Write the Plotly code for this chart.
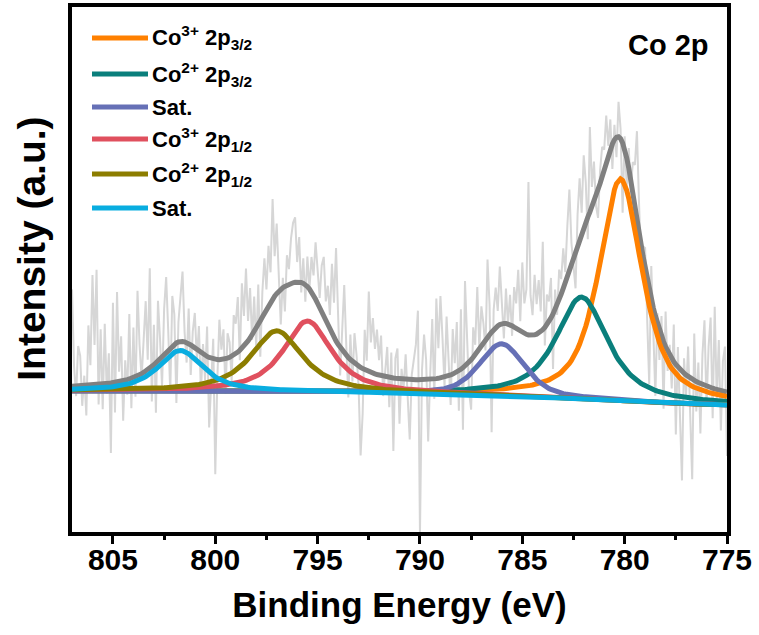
import numpy as np
import plotly.graph_objects as go

# ---------------- data ----------------
energy_start = 807.0
energy_stop = 775.0
energy_count = 321  # 0.1 eV steps

# raw spectrum deviations from the fitted envelope, 807.0 -> 775.0 eV (0.1 eV steps)
residuals = [
    97, 20, -10, 40, 30, -20, 10, -30, 60, 20,
    110, 40, 115, -20, 55, -25, 60, -10, 30, -70,
    80, -30, 90, 10, 45, -40, 20, -15, 65, -30,
    50, -20, 85, 30, -5, 40, 70, 10, 100, -35,
    40, -50, 60, 20, -30, 45, 75, 20, -45, 50,
    30, -60, 20, 45, 70, 10, -20, 35, -30, 15,
    35, -10, 25, -40, 10, -25, 30, -70, -15, 20,
    -115, -20, 40, 10, 30, -35, 25, 15, -25, 40,
    30, 55, -10, 65, 30, 75, 20, 50, -5, 35,
    -20, 40, -36, 25, 55, 20, 60, 30, 100, 40,
    70, 20, -35, 10, -25, 30, 15, 45, 60, 65,
    20, 45, -10, 25, -17, 30, 0, 35, 20, 57,
    30, 10, 47, 60, 20, 40, 15, 70, 35, 93,
    30, -28, 20, 68, 10, -40, 25, -20, 30, 10,
    -20, -88, -45, 40, 10, 80, 30, 55, 25, 45,
    15, 40, -20, 10, 30, -30, 25, -73, 20, 30,
    -45, 10, -10, 25, -25, -60, 5, 20, 35, 69,
    -155, 10, 45, 20, -62, 5, 60, -20, 80, 30,
    82, 40, -10, 60, 20, -30, 45, 10, 50, -40,
    60, -62, 85, 20, -30, -50, 30, 10, 65, 0,
    40, 20, -10, 78, 30, -100, 20, 40, 15, 58,
    20, -15, 35, 0, 30, -10, 40, 25, 60, 10,
    70, 30, 45, 153, 40, 20, 60, 30, 53, 20,
    88, -18, 30, 20, 40, -55, 20, -10, 30, 15,
    40, 10, 50, 80, 20, -10, -38, 30, 60, 20,
    72, 40, -22, 85, 20, 40, -10, -28, 13, 30,
    20, 47, 10, 30, -25, 15, -20, 35, 10, -70,
    13, -30, 20, -10, 30, 40, 87, 30, -20, 10,
    20, -40, -95, 33, -20, -80, 10, -30, 20, -67,
    35, -20, 10, -30, 37, -70, 20, -40, -109, 15,
    -20, 30, -40, -100, 47, -30, 20, -50, 30, 65,
    -20, 40, 70, -30, 82, -10, 50, -40, 30, 45,
    -64,
]

comp_names = [
    "Co<sup>3+</sup> 2p<sub>3/2</sub>",
    "Co<sup>2+</sup> 2p<sub>3/2</sub>",
    "Sat.",
    "Co<sup>3+</sup> 2p<sub>1/2</sub>",
    "Co<sup>2+</sup> 2p<sub>1/2</sub>",
    "Sat.",
]
comp_centers = [780.2, 782.1, 786.0, 795.5, 797.0, 801.7]   # eV
comp_heights = [222, 102, 52, 71, 61, 41]                  # a.u. above background
comp_fwhm = [2.5, 3.0, 2.6, 2.8, 3.0, 2.6]                 # eV
comp_lorentz = [0.7, 0.8, 0.5, 0.85, 0.85, 0.8]            # Lorentzian fraction
comp_colors = ["#FF8000", "#0A7F7C", "#6670B6", "#E0505E", "#8C7D00", "#09ADE0"]

bg_energy = [807, 795, 787, 781, 778, 775]
bg_level = [141, 140, 137, 132, 128.5, 127]

x_ticks = [805, 800, 795, 790, 785, 780, 775]
x_minor_ticks = [802.5, 797.5, 792.5, 787.5, 782.5, 777.5]

# ---------------- build curves ----------------
energy = np.linspace(energy_start, energy_stop, energy_count)
order = np.argsort(bg_energy)
background = np.interp(energy, np.array(bg_energy)[order], np.array(bg_level)[order])


def pseudo_voigt(x, c, h, w, eta):
    hw = w / 2.0
    lor = 1.0 / (1.0 + ((x - c) / hw) ** 2)
    gau = np.exp(-np.log(2) * ((x - c) / hw) ** 2)
    return h * (eta * lor + (1 - eta) * gau)


components = [pseudo_voigt(energy, c, h, w, e)
              for c, h, w, e in zip(comp_centers, comp_heights, comp_fwhm, comp_lorentz)]
envelope = background + np.sum(components, axis=0)
raw = envelope + np.array(residuals, dtype=float)

FONT = "Arial, Liberation Sans, Helvetica, sans-serif"

fig = go.Figure()
fig.add_trace(go.Scatter(x=energy, y=raw, mode="lines", name="Raw",
                         line=dict(color="#D6D6D6", width=2), showlegend=False,
                         hoverinfo="skip"))
fig.add_trace(go.Scatter(x=energy, y=envelope, mode="lines", name="Envelope",
                         line=dict(color="#808080", width=5), showlegend=False))
for name, comp, col in zip(comp_names, components, comp_colors):
    fig.add_trace(go.Scatter(x=energy, y=background + comp, mode="lines", name=name,
                             showlegend=False, line=dict(color=col, width=5)))

# ---------------- legend drawn in the plot's top-left corner ----------------
PLOT_L, PLOT_W, PLOT_B, PLOT_H = 72, 655, 532, 525
legend_row_px = [38, 74, 107, 139, 174, 208]
legend_shapes = []
legend_texts = []
for py, col, name in zip(legend_row_px, comp_colors, comp_names):
    yp = (PLOT_B - py) / PLOT_H
    legend_shapes.append(dict(type="line", xref="paper", yref="paper",
                              x0=(92 - PLOT_L) / PLOT_W, x1=(148 - PLOT_L) / PLOT_W,
                              y0=yp, y1=yp, line=dict(color=col, width=5), layer="above"))
    legend_texts.append(dict(text="<b>%s</b>" % name, x=(150 - PLOT_L) / PLOT_W, y=yp,
                             xref="paper", yref="paper", xanchor="left", yanchor="middle",
                             showarrow=False,
                             font=dict(family=FONT, size=22, color="black")))

fig.update_layout(
    width=759, height=635,
    margin=dict(l=PLOT_L, r=759 - PLOT_L - PLOT_W, t=PLOT_B - PLOT_H, b=635 - PLOT_B,
                autoexpand=False),
    paper_bgcolor="white", plot_bgcolor="white",
    font=dict(family=FONT, color="black"),
    showlegend=False,
    shapes=legend_shapes,
    annotations=legend_texts + [
        dict(text="<b>Co 2p</b>", x=0.975, y=0.962, xref="paper", yref="paper",
             xanchor="right", yanchor="top", showarrow=False,
             font=dict(family=FONT, size=29, color="black")),
        dict(text="<b>Intensity (a.u.)</b>", x=-0.063, y=0.539, xref="paper", yref="paper",
             xanchor="center", yanchor="middle", textangle=-90, showarrow=False,
             font=dict(family=FONT, size=39, color="black")),
    ],
)
fig.update_xaxes(
    range=[807, 775], tickvals=x_ticks, ticktext=[str(t) for t in x_ticks],
    ticks="outside", ticklen=8, tickwidth=3, tickcolor="black",
    minor=dict(tickvals=x_minor_ticks, ticks="outside", ticklen=4, tickwidth=3, tickcolor="black"),
    showline=True, linewidth=4, linecolor="black", mirror=True,
    showgrid=False, zeroline=False,
    tickfont=dict(family=FONT, size=30, weight="bold", color="black"),
    ticklabelstandoff=-10,
    title=dict(text="Binding Energy (eV)", standoff=18,
               font=dict(family=FONT, size=35, weight="bold", color="black")),
    automargin=False,
)
fig.update_yaxes(
    range=[0, 525], showticklabels=False, ticks="",
    showline=True, linewidth=4, linecolor="black", mirror=True,
    showgrid=False, zeroline=False,
    automargin=False,
)

fig.write_html("out.html", config={"displayModeBar": False},
               post_script="document.body.style.margin='0px';document.body.style.overflow='hidden';")
